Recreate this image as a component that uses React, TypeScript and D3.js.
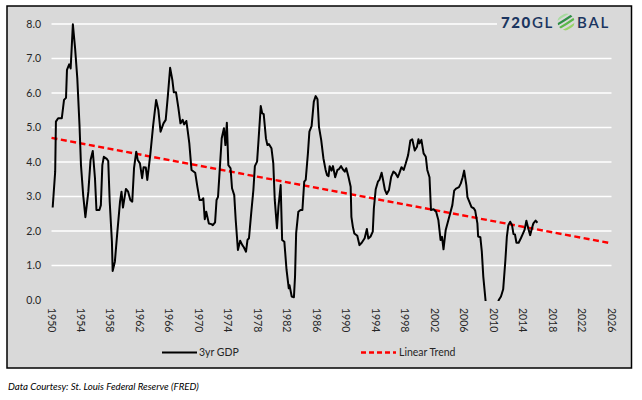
import * as d3 from "d3";
import React from "react";

const gdp3yr: [number, number][] = [
  [1950.16, 2.68], [1950.5, 3.72], [1950.6, 5.17], [1950.9, 5.27], [1951.4, 5.27],
  [1951.7, 5.8], [1951.97, 5.86], [1952.1, 6.67], [1952.4, 6.83], [1952.6, 6.71],
  [1952.9, 7.99], [1953.2, 7.3], [1953.5, 6.43], [1953.8, 5.07], [1954.0, 3.91],
  [1954.3, 3.04], [1954.6, 2.4], [1955.0, 3.14], [1955.3, 4.06], [1955.6, 4.32],
  [1955.9, 3.53], [1956.1, 2.61], [1956.5, 2.61], [1956.7, 2.75], [1956.9, 3.91],
  [1957.1, 4.15], [1957.5, 4.09], [1957.7, 4.03], [1957.9, 2.85], [1958.2, 1.69],
  [1958.3, 0.84], [1958.6, 1.11], [1958.9, 1.88], [1959.3, 2.85], [1959.5, 3.14],
  [1959.7, 2.68], [1960.1, 3.22], [1960.4, 3.14], [1960.7, 2.9], [1960.96, 2.85],
  [1961.2, 3.82], [1961.5, 4.3], [1961.7, 4.06], [1962.0, 3.96], [1962.3, 3.53],
  [1962.5, 3.85], [1962.8, 3.84], [1963.0, 3.48], [1963.4, 4.2], [1963.8, 5.07],
  [1964.2, 5.8], [1964.5, 5.51], [1964.8, 4.88], [1965.2, 5.12], [1965.5, 5.22],
  [1965.8, 5.94], [1966.1, 6.73], [1966.4, 6.38], [1966.6, 6.02], [1966.9, 6.02],
  [1967.2, 5.6], [1967.5, 5.12], [1967.8, 5.22], [1968.0, 5.09], [1968.3, 5.19],
  [1968.5, 4.88], [1968.7, 4.55], [1969.0, 3.77], [1969.5, 3.69], [1969.8, 3.28],
  [1970.1, 2.9], [1970.4, 2.9], [1970.6, 2.95], [1970.8, 2.34], [1971.0, 2.56],
  [1971.35, 2.22], [1971.7, 2.2], [1971.9, 2.17], [1972.2, 2.25], [1972.4, 2.9],
  [1972.6, 2.99], [1972.8, 3.67], [1973.1, 4.69], [1973.4, 4.98], [1973.6, 4.49],
  [1973.8, 5.14], [1974.0, 3.91], [1974.3, 3.82], [1974.5, 3.24], [1974.8, 3.04],
  [1975.0, 2.32], [1975.3, 1.45], [1975.6, 1.72], [1975.9, 1.59], [1976.1, 1.53],
  [1976.4, 1.4], [1976.6, 1.74], [1976.8, 1.79], [1977.1, 2.51], [1977.4, 3.19],
  [1977.6, 3.88], [1977.9, 4.01], [1978.1, 4.64], [1978.4, 5.62], [1978.6, 5.41],
  [1978.8, 5.39], [1979.1, 4.69], [1979.3, 4.49], [1979.5, 4.52], [1979.85, 4.4],
  [1980.1, 3.96], [1980.3, 2.9], [1980.6, 2.08], [1980.8, 2.7], [1981.1, 3.33],
  [1981.3, 1.74], [1981.6, 1.69], [1981.9, 0.87], [1982.2, 0.34], [1982.3, 0.43],
  [1982.6, 0.1], [1982.9, 0.08], [1983.05, 0.68], [1983.2, 1.93], [1983.5, 2.56],
  [1983.8, 2.61], [1984.05, 2.61], [1984.3, 3.43], [1984.5, 3.48], [1984.8, 4.25],
  [1985.0, 4.88], [1985.3, 5.04], [1985.6, 5.75], [1985.85, 5.91], [1986.1, 5.82],
  [1986.3, 5.02], [1986.6, 4.64], [1986.9, 4.11], [1987.2, 3.77], [1987.4, 3.62],
  [1987.6, 3.59], [1987.75, 3.88], [1988.0, 3.75], [1988.2, 3.88], [1988.5, 3.56],
  [1988.8, 3.77], [1989.0, 3.79], [1989.3, 3.88], [1989.6, 3.77], [1989.8, 3.72],
  [1990.0, 3.82], [1990.3, 3.57], [1990.6, 3.28], [1990.7, 2.41], [1990.9, 2.12],
  [1991.1, 1.93], [1991.5, 1.86], [1991.8, 1.59], [1992.1, 1.66], [1992.5, 1.79],
  [1992.8, 2.06], [1993.0, 1.78], [1993.3, 1.84], [1993.6, 1.98], [1993.75, 2.66],
  [1994.0, 3.21], [1994.3, 3.43], [1994.5, 3.48], [1994.8, 3.69], [1995.0, 3.48],
  [1995.25, 3.19], [1995.5, 3.07], [1995.8, 3.19], [1996.1, 3.57], [1996.4, 3.72],
  [1996.7, 3.67], [1997.0, 3.56], [1997.2, 3.67], [1997.5, 3.85], [1997.8, 3.77],
  [1998.05, 3.94], [1998.4, 4.2], [1998.7, 4.62], [1998.96, 4.66], [1999.3, 4.33],
  [1999.6, 4.44], [1999.8, 4.66], [1999.95, 4.54], [2000.2, 4.64], [2000.5, 4.25],
  [2000.8, 4.15], [2001.0, 3.77], [2001.3, 3.56], [2001.5, 2.61], [2001.85, 2.63],
  [2002.2, 2.56], [2002.5, 2.32], [2002.8, 1.74], [2003.0, 1.83], [2003.2, 1.47],
  [2003.5, 2.03], [2003.8, 2.27], [2004.1, 2.51], [2004.4, 2.75], [2004.65, 3.17],
  [2004.9, 3.23], [2005.3, 3.27], [2005.55, 3.38], [2005.8, 3.56], [2006.0, 3.75],
  [2006.3, 3.33], [2006.45, 2.98], [2006.7, 2.85], [2007.0, 2.69], [2007.3, 2.66],
  [2007.5, 2.59], [2007.8, 2.22], [2007.9, 1.84], [2008.2, 1.82], [2008.4, 1.4],
  [2008.6, 0.68], [2008.9, 0.0], [2009.2, -0.6], [2009.5, -1.0], [2009.8, -0.9],
  [2010.1, -0.6], [2010.4, -0.2], [2010.7, 0.0], [2011.0, 0.1], [2011.3, 0.31],
  [2011.6, 1.16], [2011.8, 1.84], [2012.0, 2.17], [2012.25, 2.27], [2012.5, 2.17],
  [2012.7, 1.91], [2012.9, 1.9], [2013.1, 1.66], [2013.4, 1.66], [2013.7, 1.79],
  [2013.95, 1.91], [2014.2, 2.03], [2014.45, 2.3], [2014.7, 2.08], [2014.96, 1.88],
  [2015.2, 2.08], [2015.4, 2.22], [2015.7, 2.3], [2015.95, 2.24],
];

// linear trend end points
const trendYears = [1950, 2026];
const trendValues = [4.7, 1.64];

const yTicks = [0, 1, 2, 3, 4, 5, 6, 7, 8];
const xTicks = d3.range(1950, 2027, 4);

const seriesNames = ["3yr GDP", "Linear Trend"];
const footnote = "Data Courtesy: St. Louis Federal Reserve (FRED)";

const font = "Lato, 'Open Sans', sans-serif";

const App = () => {
  const width = 642;
  const height = 400;
  const x = d3.scaleLinear([1950, 2026], [51.5, 611.5]);
  const y = d3.scaleLinear([0, 8], [300, 24]);

  const line = d3
    .line<[number, number]>()
    .x((d) => x(d[0]))
    .y((d) => y(d[1]));

  const trend: [number, number][] = trendYears.map((t, i) => [t, trendValues[i]]);

  return (
    <svg
      width={width}
      height={height}
      style={{ position: "absolute", left: 0, top: 0 }}
      fontFamily={font}
    >
      <rect width={width} height={height} fill="#fff" />
      <rect x={7} y={6} width={624.5} height={362} fill="#d9d9d9" stroke="#000" strokeWidth={1.5} />
      <defs>
        <clipPath id="plot">
          <rect x={x(1950) - 2} y={y(8) - 4} width={x(2026) - x(1950) + 4} height={y(0) - y(8) + 5} />
        </clipPath>
        <clipPath id="globe">
          <circle cx={566} cy={22} r={8.5} />
        </clipPath>
      </defs>

      {/* gridlines */}
      <g stroke="#fff" strokeWidth={1.3}>
        {yTicks
          .filter((t) => t > 0)
          .map((t) => (
            <line key={t} x1={x(1950)} x2={x(2026)} y1={y(t)} y2={y(t)} />
          ))}
      </g>

      {/* y labels */}
      <g fontSize={10.5} fill="#262626" textAnchor="end">
        {yTicks.map((t) => (
          <text key={t} x={41} y={y(t)} dy="0.35em">
            {d3.format(".1f")(t)}
          </text>
        ))}
      </g>

      {/* x labels */}
      <g fontSize={10.5} fill="#262626">
        {xTicks.map((t) => (
          <text
            key={t}
            transform={`translate(${x(t)},308) rotate(90)`}
            dominantBaseline="central"
          >
            {t}
          </text>
        ))}
      </g>

      {/* logo */}
      <g>
        <rect x={497} y={13} width={124} height={20} fill="#d9d9d9" />
        <text x={501} y={27.5} fontSize={15} fontWeight={900} fill="#1b3560" letterSpacing={1.6}>
          720
          <tspan fontWeight={600}>GL</tspan>
        </text>
        <g clipPath="url(#globe)" fill="none" strokeWidth={2.2}>
          <path d="M555,26 Q565,20 577,12" stroke="#2f8f45" />
          <path d="M556,30 Q567,24 578,16" stroke="#5cb84a" />
          <path d="M559,33 Q570,28 579,21" stroke="#9ad46b" />
          <path d="M554,22 Q562,16 572,11" stroke="#a8dba0" />
        </g>
        <text x={577} y={27.5} fontSize={15} fontWeight={600} fill="#1b3560" letterSpacing={1.8}>
          BAL
        </text>
      </g>

      {/* trend */}
      <path
        d={line(trend) ?? ""}
        fill="none"
        stroke="#ff0000"
        strokeWidth={2.4}
        strokeDasharray="6 3.5"
      />

      {/* gdp */}
      <path
        d={line(gdp3yr) ?? ""}
        fill="none"
        stroke="#000"
        strokeWidth={2}
        strokeLinejoin="round"
        clipPath="url(#plot)"
      />

      {/* legend */}
      <g fontSize={10.5} fill="#262626">
        <line x1={162} x2={197} y1={352.5} y2={352.5} stroke="#000" strokeWidth={2} />
        <text x={199} y={352.5} dy="0.35em">{seriesNames[0]}</text>
        <line
          x1={361}
          x2={396}
          y1={352.5}
          y2={352.5}
          stroke="#ff0000"
          strokeWidth={2.4}
          strokeDasharray="5 3"
        />
        <text x={399} y={352.5} dy="0.35em">{seriesNames[1]}</text>
      </g>

      {/* footnote */}
      <text x={8} y={390} fontSize={9.7} fontStyle="italic" fill="#000">
        {footnote}
      </text>
    </svg>
  );
};

export default App;
